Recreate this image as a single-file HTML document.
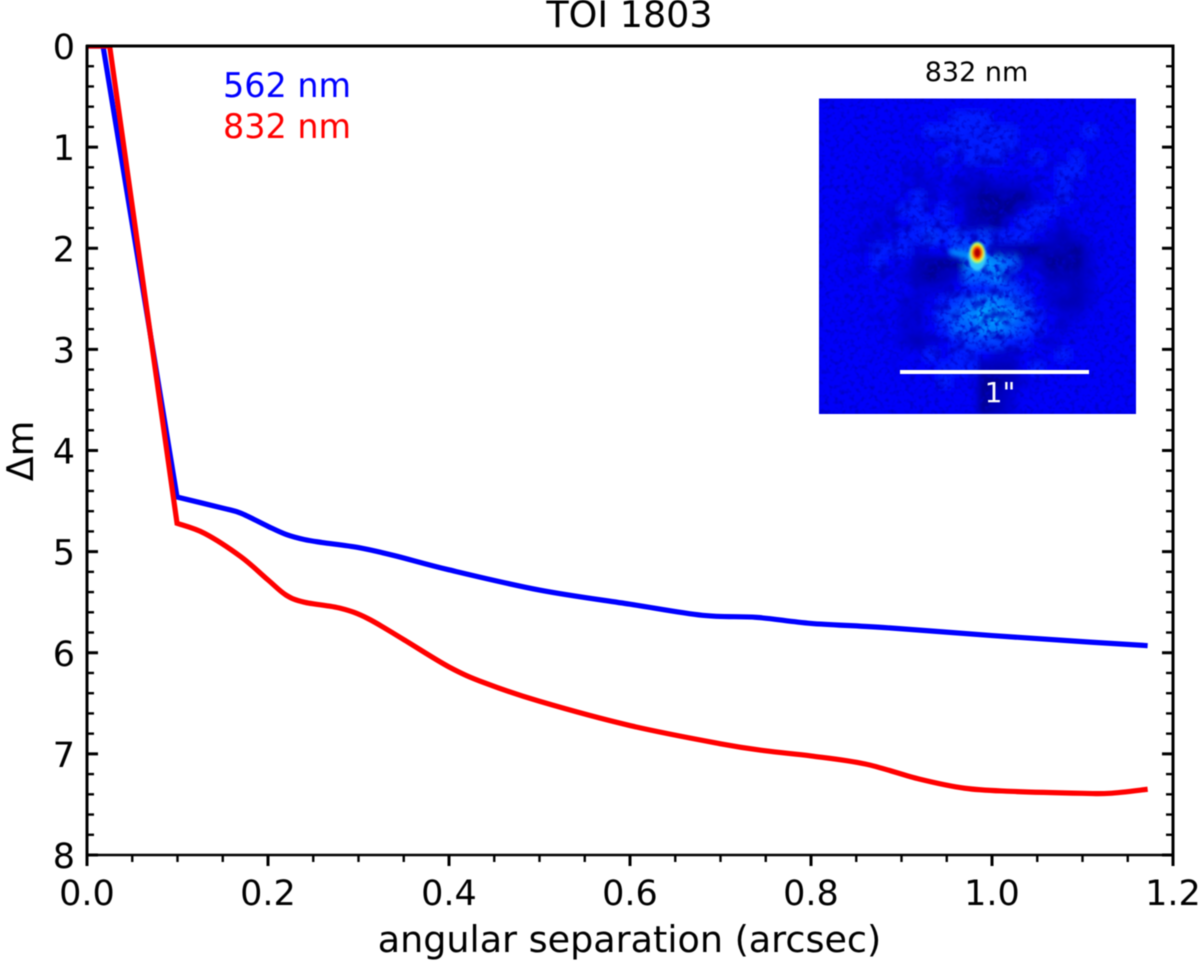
<!DOCTYPE html>
<html lang="en">
<head>
<meta charset="utf-8">
<title>TOI 1803</title>
<style>
html,body{margin:0;padding:0;background:#fff;width:1200px;height:965px;overflow:hidden}
svg{display:block;filter:blur(0.45px)}
text{font-family:"DejaVu Sans","Liberation Sans",sans-serif;fill:#000}
</style>
</head>
<body>
<svg id="chart" xmlns="http://www.w3.org/2000/svg" width="1200" height="965" viewBox="0 0 1200 965">
  <defs>
    <filter id="cell-blur" x="-10%" y="-10%" width="120%" height="120%"><feGaussianBlur stdDeviation="3.6"/></filter>
    <filter id="core-blur" x="-50%" y="-50%" width="200%" height="200%"><feGaussianBlur stdDeviation="1.1"/></filter>
    <filter id="stripe-blur" x="-50%" y="-100%" width="200%" height="300%"><feGaussianBlur stdDeviation="2.2"/></filter>
    <filter id="grain" x="0" y="0" width="100%" height="100%">
      <feTurbulence type="fractalNoise" baseFrequency="0.2" numOctaves="2" seed="7"/>
      <feColorMatrix type="matrix" values="0 0 0 0 0  0 0 0 0 0  0 0 0 0 0.55  2.6 0 0 0 -1.25"/>
    </filter>
    <filter id="blotch" x="0" y="0" width="100%" height="100%">
      <feTurbulence type="fractalNoise" baseFrequency="0.09" numOctaves="2" seed="11"/>
      <feColorMatrix type="matrix" values="0 0 0 0 0  0 0 0 0 0  0 0 0 0 0.5  3 0 0 0 -1.5"/>
      <feGaussianBlur stdDeviation="1"/>
    </filter>
    <radialGradient id="blotch-fade" cx="50%" cy="50%" r="50%">
      <stop offset="0" stop-color="#fff"/>
      <stop offset="0.6" stop-color="#fff"/>
      <stop offset="1" stop-color="#000"/>
    </radialGradient>
    <mask id="blotch-mask" maskUnits="userSpaceOnUse" x="819" y="98" width="317" height="316">
      <rect x="819" y="98" width="317" height="316" fill="url(#blotch-fade)"/>
    </mask>
    <clipPath id="inset-clip"><rect x="819" y="98.5" width="317" height="315.5"/></clipPath>
    <clipPath id="plot-clip"><rect x="87" y="46" width="1086" height="809"/></clipPath>
  </defs>
  <g id="inset" clip-path="url(#inset-clip)">
    <rect x="800" y="80" width="360" height="350" fill="#0000ea"/>
    <g id="inset-cells" filter="url(#cell-blur)"></g>
    <g mask="url(#blotch-mask)">
      <rect x="819" y="98.5" width="317" height="316" filter="url(#blotch)"/>
    </g>
    <rect x="819" y="98.5" width="317" height="316" filter="url(#grain)"/>
    <ellipse cx="961" cy="254" rx="13" ry="4" fill="#0090ff" opacity="0.85" filter="url(#stripe-blur)" transform="rotate(14 961 254)"/>
    <g id="inset-core" filter="url(#core-blur)"></g>
  </g>
  <rect x="900" y="370" width="189" height="4" fill="#fff"/>
  <text x="1000" y="402" font-size="28" text-anchor="middle" style="fill:#fff">1"</text>
  <text x="976.5" y="81" font-size="27" text-anchor="middle">832 nm</text>
  <g id="series" clip-path="url(#plot-clip)"></g>
  <g id="ticks"></g>
  <g id="frame">
    <line x1="86" y1="46" x2="1174.5" y2="46" stroke="#000" stroke-width="3"/>
    <line x1="87" y1="45" x2="87" y2="866" stroke="#000" stroke-width="3"/>
    <line x1="1173" y1="45" x2="1173" y2="866" stroke="#000" stroke-width="3"/>
    <line x1="86" y1="855" x2="1174" y2="855" stroke="#000" stroke-width="2.4"/>
  </g>
  <text x="629.5" y="27" font-size="36.5" text-anchor="middle">TOI 1803</text>
  <text x="629.5" y="952" font-size="36.5" text-anchor="middle">angular separation (arcsec)</text>
  <text transform="translate(33,451) rotate(-90)" font-size="36.5" text-anchor="middle">Δm</text>
  <text x="223" y="97" font-size="33.4" style="fill:#0000ff">562 nm</text>
  <text x="223" y="138" font-size="33.4" style="fill:#ff0000">832 nm</text>
</svg>
<script>
const xTickLabels = ["0.0","0.2","0.4","0.6","0.8","1.0","1.2"];
const yTickLabels = ["0","1","2","3","4","5","6","7","8"];
const blueSep = [0,0.0177,0.0995,0.15,0.17,0.2,0.22,0.24,0.26,0.3,0.34,0.4,0.5,0.6,0.68,0.74,0.8,0.88,1.0,1.1,1.172];
const blueMag = [0,0,4.46,4.57,4.62,4.75,4.83,4.88,4.91,4.96,5.04,5.18,5.38,5.52,5.63,5.65,5.71,5.75,5.83,5.89,5.93];
const redSep = [0,0.025,0.0995,0.13,0.17,0.2,0.22,0.24,0.28,0.31,0.35,0.4,0.44,0.5,0.6,0.7,0.75,0.8,0.86,0.92,0.97,1.02,1.1,1.13,1.172];
const redMag = [0,0,4.72,4.82,5.05,5.28,5.43,5.5,5.56,5.66,5.87,6.14,6.3,6.48,6.72,6.9,6.97,7.02,7.1,7.25,7.34,7.37,7.39,7.39,7.35];
const imageRows = [
"333333333333333333333333",
"333333333344433333333333",
"333333334444444333334333",
"333333333344444333333333",
"333333333434443343343333",
"333333323332333333443333",
"333333322322122233433333",
"333333342321000023433333",
"333332443431000344333333",
"333323344431103443233333",
"333223445454544432123333",
"333344423356511001102333",
"333343310007876220002333",
"333333210126672331112333",
"333333322234455432212333",
"333333223456776532112333",
"333333223567887643223333",
"333333223466776543233333",
"333333212345554432333333",
"333333334344322333433333",
"333333333444111343333333",
"333333333433001233333333",
"333333333333012333333333",
"333333333333012333333333"
];

const NS = "http://www.w3.org/2000/svg";
const xScale = v => 87 + v * (1173 - 87) / 1.2;
const yScale = v => 46 + v * (855 - 46) / 8;

function svgEl(tag, attrs, parent) {
  const el = document.createElementNS(NS, tag);
  for (const k in attrs) el.setAttribute(k, attrs[k]);
  parent.appendChild(el);
  return el;
}

function jet(v) {
  const c = t => Math.round(255 * Math.max(0, Math.min(1, t)));
  return "rgb(" + c(1.5 - Math.abs(4 * v - 3)) + "," + c(1.5 - Math.abs(4 * v - 2)) + "," + c(1.5 - Math.abs(4 * v - 1)) + ")";
}

const cellGroup = document.getElementById("inset-cells");
const cellW = 317 / 24, cellH = 315.5 / 24;
imageRows.forEach((row, r) => {
  row.split("").forEach((d, c) => {
    const cell = svgEl("rect", {x: 819 + c * cellW, y: 98.5 + r * cellH, width: cellW + 0.5, height: cellH + 0.5, fill: jet(Number(d) * 0.033 + 0.02)}, cellGroup);
    
    
  });
});

const coreGroup = document.getElementById("inset-core");
const coreRx = [9, 7.8, 7, 5.8, 4.6, 2.8];
const coreRy = [14, 11, 9.5, 7.8, 6.2, 4];
const coreCol = ["#30c8ff", "#30e8a0", "#d8ff20", "#ffb000", "#f01000", "#a80000"];
coreRx.forEach((rx, i) => {
  const ring = svgEl("ellipse", {cx: 977.3, cy: i === 0 ? 257 : 252.8, rx: rx, ry: coreRy[i], fill: coreCol[i]}, coreGroup);
  
  
});

function smoothPath(xs, ys, knee) {
  const px = xs.map(xScale), py = ys.map(yScale);
  let d = "M" + px[0] + " " + py[0];
  for (let i = 1; i < px.length; i++) {
    if (i <= knee) { d += "L" + px[i] + " " + py[i]; continue; }
    const p0 = i - 2 < knee ? i - 1 : i - 2;
    const p3 = i + 1 > px.length - 1 ? i : i + 1;
    const c1x = px[i-1] + (px[i] - px[p0]) / 6, c1y = py[i-1] + (py[i] - py[p0]) / 6;
    const c2x = px[i] - (px[p3] - px[i-1]) / 6, c2y = py[i] - (py[p3] - py[i-1]) / 6;
    d += "C" + c1x + " " + c1y + " " + c2x + " " + c2y + " " + px[i] + " " + py[i];
  }
  return d;
}

const seriesGroup = document.getElementById("series");
const blueLine = svgEl("path", {d: smoothPath(blueSep, blueMag, 2), fill: "none", stroke: "#0000ff", "stroke-width": 5.2, "stroke-linejoin": "miter"}, seriesGroup);


const redLine = svgEl("path", {d: smoothPath(redSep, redMag, 2), fill: "none", stroke: "#ff0000", "stroke-width": 5.2, "stroke-linejoin": "miter"}, seriesGroup);



const tickGroup = document.getElementById("ticks");
for (let i = 0; i <= 24; i++) {
  const major = i % 4 === 0;
  const x = xScale(i * 0.05);
  const t = svgEl("line", {x1: x, x2: x, y1: 855, y2: major ? 866 : 862, stroke: "#000", "stroke-width": major ? 3 : 2.4}, tickGroup);
  
  
}
for (let i = 0; i <= 40; i++) {
  const major = i % 5 === 0;
  const y = yScale(i * 0.2);
  const len = major ? 11 : 7;
  const l = svgEl("line", {x1: 87, x2: 87 + len, y1: y, y2: y, stroke: "#000", "stroke-width": major ? 3 : 2.4}, tickGroup);
  
  
  const r = svgEl("line", {x1: 1173 - len, x2: 1173, y1: y, y2: y, stroke: "#000", "stroke-width": major ? 3 : 2.4}, tickGroup);
  
  
}
xTickLabels.forEach(s => {
  const t = svgEl("text", {x: xScale(Number(s)), y: 905, "font-size": 35, "text-anchor": "middle"}, tickGroup);
  
  
  t.textContent = s;
});
yTickLabels.forEach(s => {
  const t = svgEl("text", {x: 75, y: yScale(Number(s)) + 13, "font-size": 35, "text-anchor": "end"}, tickGroup);
  
  
  t.textContent = s;
});
</script>
</body>
</html>
